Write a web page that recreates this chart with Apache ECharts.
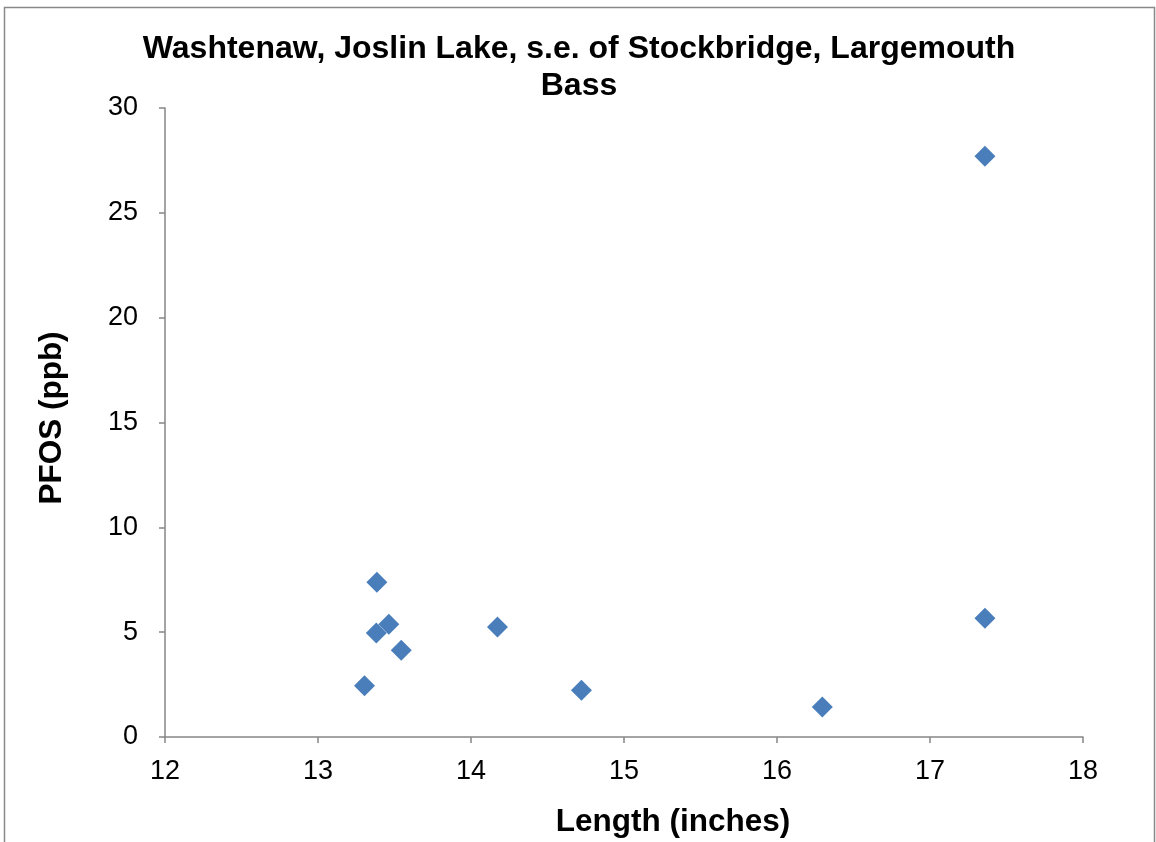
<!DOCTYPE html>
<html>
<head>
<meta charset="utf-8">
<script src="https://cdn.jsdelivr.net/npm/echarts@6/dist/echarts.min.js"></script>
<style>html,body{margin:0;padding:0;background:#fff;}#c{width:1156px;height:842px;}</style>
</head>
<body>
<div id="c"></div>
<script>
var lengths = [13.385, 13.463, 13.381, 13.544, 13.304, 14.173, 14.722, 16.296, 17.359, 17.359];
var pfos    = [7.38, 5.38, 4.96, 4.14, 2.45, 5.25, 2.23, 1.43, 27.70, 5.66];
var xTicks = [12, 13, 14, 15, 16, 17, 18];
var yTicks = [0, 5, 10, 15, 20, 25, 30];
var titleText = 'Washtenaw, Joslin Lake, s.e. of Stockbridge, Largemouth\nBass';

var points = lengths.map(function (x, i) { return [x, pfos[i]]; });
var font = 'Liberation Sans, Arial, sans-serif';
var chart = echarts.init(document.getElementById('c'), null, {renderer: 'canvas'});
chart.setOption({
  animation: false,
  backgroundColor: '#fff',
  title: {
    text: titleText,
    left: 579, top: 31, textAlign: 'center', padding: 0,
    textStyle: {fontFamily: font, fontSize: 32, fontWeight: 'bold', color: '#000', lineHeight: 37, align: 'center'}
  },
  grid: {left: 165, top: 108, right: 73, bottom: 105},
  xAxis: {
    type: 'value', min: xTicks[0], max: xTicks[xTicks.length - 1], interval: 1,
    splitLine: {show: false},
    axisLine: {onZero: false, lineStyle: {color: '#868686', width: 1.5}},
    axisTick: {show: true, length: 6, lineStyle: {color: '#868686', width: 1.5}},
    axisLabel: {fontFamily: font, fontSize: 27, color: '#000', margin: 21}
  },
  yAxis: {
    type: 'value', min: yTicks[0], max: yTicks[yTicks.length - 1], interval: 5,
    splitLine: {show: false},
    axisLine: {show: true, lineStyle: {color: '#868686', width: 1.5}},
    axisTick: {show: true, length: 6, lineStyle: {color: '#868686', width: 1.5}},
    axisLabel: {fontFamily: font, fontSize: 27, color: '#000', margin: 27}
  },
  graphic: [
    {type: 'rect', shape: {x: 4.5, y: 7.5, width: 1150, height: 850}, style: {fill: 'none', stroke: '#898989', lineWidth: 1.5}, silent: true},
    {type: 'text', x: 673, y: 822, style: {text: 'Length (inches)', font: 'bold 31.5px ' + font, fill: '#000', textAlign: 'center', textVerticalAlign: 'middle'}},
    {type: 'text', x: 52, y: 418, rotation: Math.PI / 2, style: {text: 'PFOS (ppb)', font: 'bold 31.5px ' + font, fill: '#000', textAlign: 'center', textVerticalAlign: 'middle'}}
  ],
  series: [{
    type: 'scatter',
    data: points,
    symbol: 'diamond',
    symbolSize: 21,
    itemStyle: {color: '#4a7ebb', opacity: 1}
  }]
});
</script>
</body>
</html>
